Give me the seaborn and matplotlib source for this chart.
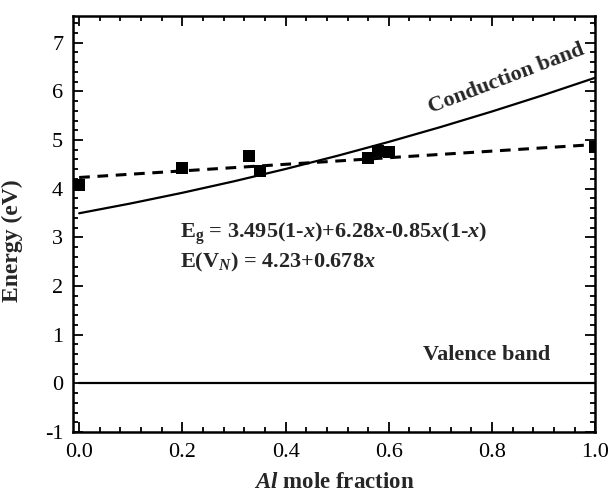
import numpy as np
import pandas as pd
import matplotlib
matplotlib.use("Agg")
import matplotlib.pyplot as plt
from matplotlib.ticker import MultipleLocator
import seaborn as sns

# ---- data ----
meas_x = [0.0, 0.2, 0.33, 0.35, 0.56, 0.58, 0.60, 1.0]
meas_e = [4.08, 4.42, 4.68, 4.36, 4.64, 4.77, 4.75, 4.86]

cb_x = [0.0, 0.1, 0.2, 0.3, 0.4, 0.5, 0.6, 0.7, 0.8, 0.9, 1.0]
cb_e = [3.495, 3.697, 3.916, 4.152, 4.405, 4.675, 4.962, 5.266, 5.587, 5.925, 6.28]

vn_x = [0.0, 1.0]
vn_e = [4.23, 4.908]

vb_x = [0.0, 1.0]
vb_e = [0.0, 0.0]

x_ticks = [0.0, 0.2, 0.4, 0.6, 0.8, 1.0]
x_tick_labels = ["0.0", "0.2", "0.4", "0.6", "0.8", "1.0"]
y_ticks = [-1, 0, 1, 2, 3, 4, 5, 6, 7]

sns.set_style("ticks")
plt.rcParams["font.family"] = ["Liberation Serif", "DejaVu Serif"]
plt.rcParams["axes.unicode_minus"] = False
plt.rcParams["mathtext.fontset"] = "custom"
plt.rcParams["mathtext.rm"] = "Liberation Serif:bold"
plt.rcParams["mathtext.it"] = "Liberation Serif:italic:bold"
plt.rcParams["mathtext.bf"] = "Liberation Serif:bold"

fig = plt.figure(figsize=(6.08, 4.98), dpi=100)
ax = fig.add_axes([0.120, 0.1325, 0.859, 0.8355])

df_cb = pd.DataFrame({"x": cb_x, "e": cb_e})
df_vn = pd.DataFrame({"x": vn_x, "e": vn_e})
df_vb = pd.DataFrame({"x": vb_x, "e": vb_e})
df_m = pd.DataFrame({"x": meas_x, "e": meas_e})

sns.lineplot(data=df_cb, x="x", y="e", ax=ax, color="black", lw=1.6, sort=True)
sns.lineplot(data=df_vb, x="x", y="e", ax=ax, color="black", lw=1.6)
sns.lineplot(data=df_vn, x="x", y="e", ax=ax, color="black", lw=2.2,
             linestyle=(0, (3.5, 2.5)))
sns.scatterplot(data=df_m, x="x", y="e", ax=ax, marker="s", s=75,
                color="black", edgecolor="black", linewidth=0, zorder=5)

ax.set_xlim(-0.012, 1.0)
ax.set_ylim(-1, 7.55)
ax.set_xticks(x_ticks)
ax.set_xticklabels(x_tick_labels)
ax.set_yticks(y_ticks)
ax.xaxis.set_minor_locator(MultipleLocator(0.04))
ax.yaxis.set_minor_locator(MultipleLocator(0.2))
ax.tick_params(which="both", direction="in", top=True, right=True,
               width=1.3, labelsize=16, color="black", labelcolor="black")
ax.tick_params(which="major", length=7)
ax.tick_params(which="minor", length=3.5)
ax.tick_params(axis="x", which="major", pad=8)
ax.tick_params(axis="y", which="major", pad=7)
for s in ax.spines.values():
    s.set_linewidth(1.8)
    s.set_color("black")

ax.set_xlabel(r"$\it{Al}$ mole fraction", fontsize=16.5, fontweight="bold", labelpad=7)
ax.set_ylabel("Energy (eV)", fontsize=17, fontweight="bold")
ax.yaxis.set_label_coords(-0.095, 0.46)

ax.text(0.827, 6.25, "Conduction band", rotation=21, ha="center", va="center",
        fontsize=16, fontweight="bold", rotation_mode="anchor")
ax.text(0.79, 0.58, "Valence band", ha="center", va="center",
        fontsize=16, fontweight="bold")
ax.text(0.196, 3.08, r"E$_\mathrm{g}$ = 3.495(1-$x$)+6.28$x$-0.85$x$(1-$x$)",
        ha="left", va="center", fontsize=16, fontweight="bold")
ax.text(0.196, 2.48, r"E(V$_N$) = 4.23+0.678$x$",
        ha="left", va="center", fontsize=16, fontweight="bold")

fig.savefig("out.png", dpi=100)
